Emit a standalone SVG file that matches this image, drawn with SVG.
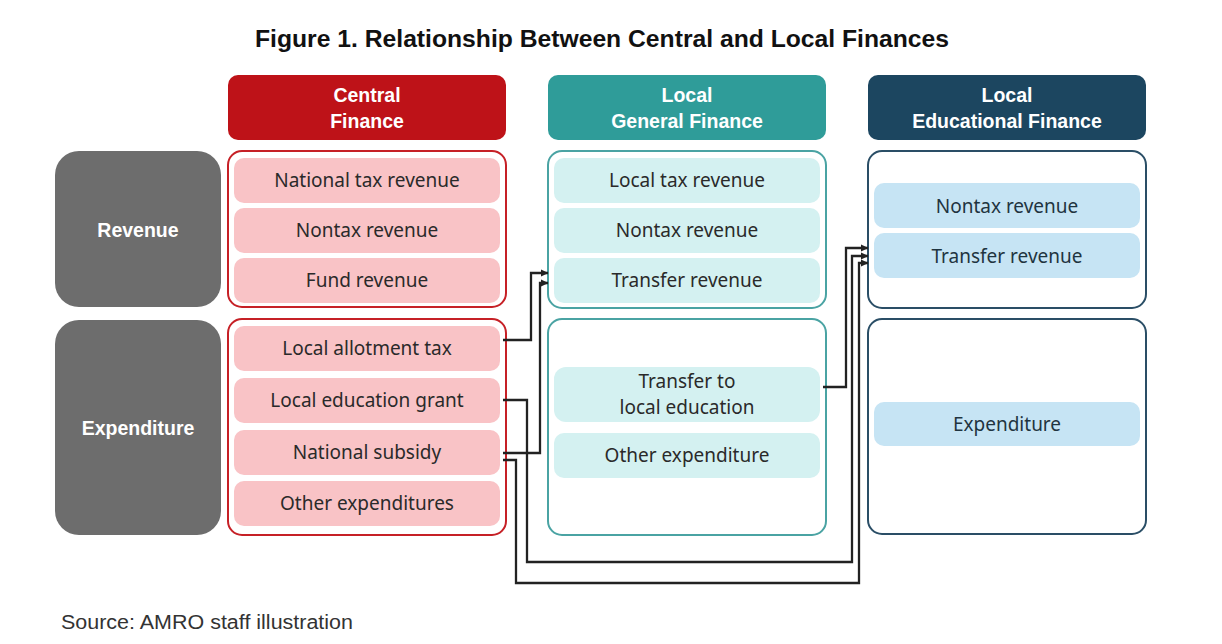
<svg xmlns="http://www.w3.org/2000/svg" width="1222" height="644" viewBox="0 0 1222 644">
<style>
.title{font-family:"Liberation Sans",Arial,sans-serif;font-weight:bold;font-size:23.5px;fill:#111}
.hdr{font-family:"Liberation Sans",Arial,sans-serif;font-weight:bold;font-size:19.5px;fill:#fff;text-anchor:middle}
.row{font-family:"Liberation Sans",Arial,sans-serif;font-weight:bold;font-size:19.5px;fill:#fff;text-anchor:middle}
.pt{font-family:"Noto Sans",sans-serif;font-size:19px;fill:#2a2a2a;text-anchor:middle}
.bt{font-family:"Noto Sans",sans-serif;font-size:19px;fill:#1f3440;text-anchor:middle}
.src{font-family:"Liberation Sans",Arial,sans-serif;font-size:20px;fill:#333}
.gray{fill:#6d6d6d}
.rbox{fill:#fff;stroke:#c62026;stroke-width:2}
.tbox{fill:#fff;stroke:#4aa3a3;stroke-width:2}
.nbox{fill:#fff;stroke:#2a4e66;stroke-width:2}
.pink{fill:#f9c3c6}
.cyan{fill:#d4f1f1}
.blue{fill:#c6e4f4}
.conn{fill:none;stroke:#222;stroke-width:2.3}
</style>
<defs>
<marker id="ah" markerUnits="userSpaceOnUse" markerWidth="9" markerHeight="9" refX="7" refY="4.5" orient="auto">
<path d="M0,1 L7.5,4.5 L0,8 Z" fill="#222"/>
</marker>
</defs>
<rect width="1222" height="644" fill="#fff"/>
<text class="title" x="602" y="47" text-anchor="middle" textLength="694" lengthAdjust="spacingAndGlyphs">Figure 1. Relationship Between Central and Local Finances</text>

<g id="hdr-central">
<rect x="228" y="75" width="278" height="65" rx="10" fill="#be1218"/>
<text class="hdr" x="367" y="102">Central</text>
<text class="hdr" x="367" y="128">Finance</text>
</g>
<g id="hdr-localgen">
<rect x="548" y="75" width="278" height="65" rx="10" fill="#2f9c99"/>
<text class="hdr" x="687" y="102">Local</text>
<text class="hdr" x="687" y="128">General Finance</text>
</g>
<g id="hdr-localedu">
<rect x="868" y="75" width="278" height="65" rx="10" fill="#1c4660"/>
<text class="hdr" x="1007" y="102">Local</text>
<text class="hdr" x="1007" y="128">Educational Finance</text>
</g>

<g id="row-revenue">
<rect class="gray" x="55" y="151" width="166" height="156" rx="24"/>
<text class="row" x="138" y="237">Revenue</text>
</g>
<g id="row-expenditure">
<rect class="gray" x="55" y="320" width="166" height="215" rx="24"/>
<text class="row" x="138" y="435">Expenditure</text>
</g>

<g id="central-revenue">
<rect class="rbox" x="228" y="151" width="278" height="156" rx="14"/>
<rect class="pink" x="234" y="158" width="266" height="45" rx="10"/>
<text class="pt" x="367" y="187">National tax revenue</text>
<rect class="pink" x="234" y="208" width="266" height="45" rx="10"/>
<text class="pt" x="367" y="237">Nontax revenue</text>
<rect class="pink" x="234" y="258" width="266" height="45" rx="10"/>
<text class="pt" x="367" y="287">Fund revenue</text>
</g>

<g id="central-expenditure">
<rect class="rbox" x="228" y="319" width="278" height="216" rx="14"/>
<rect class="pink" x="234" y="326" width="266" height="45" rx="10"/>
<text class="pt" x="367" y="355">Local allotment tax</text>
<rect class="pink" x="234" y="378" width="266" height="45" rx="10"/>
<text class="pt" x="367" y="407">Local education grant</text>
<rect class="pink" x="234" y="430" width="266" height="45" rx="10"/>
<text class="pt" x="367" y="459">National subsidy</text>
<rect class="pink" x="234" y="481" width="266" height="45" rx="10"/>
<text class="pt" x="367" y="510">Other expenditures</text>
</g>

<g id="localgen-revenue">
<rect class="tbox" x="548" y="151" width="278" height="157" rx="14"/>
<rect class="cyan" x="554" y="158" width="266" height="45" rx="10"/>
<text class="pt" x="687" y="187">Local tax revenue</text>
<rect class="cyan" x="554" y="208" width="266" height="45" rx="10"/>
<text class="pt" x="687" y="237">Nontax revenue</text>
<rect class="cyan" x="554" y="258" width="266" height="45" rx="10"/>
<text class="pt" x="687" y="287">Transfer revenue</text>
</g>

<g id="localgen-expenditure">
<rect class="tbox" x="548" y="319" width="278" height="216" rx="14"/>
<rect class="cyan" x="554" y="367" width="266" height="55" rx="12"/>
<text class="pt" x="687" y="388">Transfer to</text>
<text class="pt" x="687" y="414">local education</text>
<rect class="cyan" x="554" y="433" width="266" height="45" rx="10"/>
<text class="pt" x="687" y="462">Other expenditure</text>
</g>

<g id="localedu-revenue">
<rect class="nbox" x="868" y="151" width="278" height="157" rx="14"/>
<rect class="blue" x="874" y="183" width="266" height="45" rx="10"/>
<text class="bt" x="1007" y="213">Nontax revenue</text>
<rect class="blue" x="874" y="233" width="266" height="45" rx="10"/>
<text class="bt" x="1007" y="263">Transfer revenue</text>
</g>

<g id="localedu-expenditure">
<rect class="nbox" x="868" y="319" width="278" height="215" rx="14"/>
<rect class="blue" x="874" y="402" width="266" height="44" rx="10"/>
<text class="bt" x="1007" y="431">Expenditure</text>
</g>

<g id="connectors">
<path class="conn" marker-end="url(#ah)" d="M503,340 H531 V273 H548"/>
<path class="conn" marker-end="url(#ah)" d="M503,453 H540 V283 H548"/>
<path class="conn" marker-end="url(#ah)" d="M503,400 H527 V562 H852 V256 H868"/>
<path class="conn" marker-end="url(#ah)" d="M503,460 H516 V583 H859 V263 H868"/>
<path class="conn" marker-end="url(#ah)" d="M823,387 H846 V248 H868"/>
</g>

<text class="src" x="61" y="629" textLength="292" lengthAdjust="spacingAndGlyphs">Source: AMRO staff illustration</text>
</svg>
